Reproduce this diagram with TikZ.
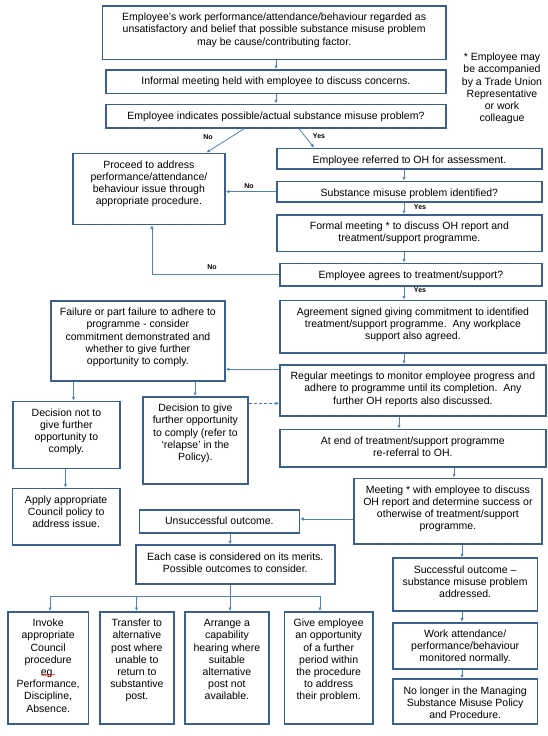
\documentclass[tikz,border=0pt]{standalone}
\usepackage{fontspec}
\setmainfont{Liberation Sans}
\usetikzlibrary{arrows.meta,decorations.pathmorphing}
\definecolor{boxc}{HTML}{3A5F91}
\definecolor{arrc}{HTML}{4F81BD}
\tikzset{
  box/.style={draw=boxc, line width=1.8pt, rectangle, inner sep=0pt, fill=white},
  txt/.style={align=center, inner sep=0pt, font=\fontsize{10.5}{12.2}\selectfont},
  arr/.style={draw=arrc, line width=0.8pt, -{Latex[length=3.5pt,width=3.5pt]}},
  conn/.style={draw=arrc, line width=0.8pt},
  lbl/.style={inner sep=0pt, font=\fontsize{7}{8}\selectfont\bfseries},
}
\newcommand\bx[6]{%
  \node[box, anchor=north west, minimum width={#4pt-#2pt}, minimum height={#5pt-#3pt}] (#1) at (#2,#3) {};
  \node[txt, anchor=north, yshift=-7.5pt] (#1t) at (#1.north) {\rule{0pt}{8pt}#6};
}
\begin{document}
\begin{tikzpicture}[x=1pt,y=-1pt]
\useasboundingbox (0,0) rectangle (547,736);
% boxes
\bx{b1}{101.5}{5}{445}{58.5}{Employee’s work performance/attendance/behaviour regarded as\\unsatisfactory and belief that possible substance misuse problem\\may be cause/contributing factor.}
\bx{b2}{105}{69}{445}{92.5}{Informal meeting held with employee to discuss concerns.}
\bx{b3}{105}{103.5}{445}{127}{Employee indicates possible/actual substance misuse problem?}
\bx{pr}{72}{152.5}{224}{223.5}{Proceed to address\\performance/attendance/\\behaviour issue through\\appropriate procedure.}
\bx{oh}{276}{147.5}{541}{168}{Employee referred to OH for assessment.}
\bx{sid}{276}{180.5}{541}{201}{Substance misuse problem identified?}
\bx{fm}{276}{214}{541}{250.5}{Formal meeting * to discuss OH report and\\treatment/support programme.}
\bx{ag}{279}{262.5}{541}{285}{Employee agrees to treatment/support?}
\bx{fail}{50}{300}{224}{380}{Failure or part failure to adhere to\\programme - consider\\commitment demonstrated and\\whether to give further\\opportunity to comply.}
\bx{agr}{279}{299.5}{545}{352}{Agreement signed giving commitment to identified\\treatment/support programme.\ \ Any workplace\\support also agreed.}
\bx{reg}{279}{364}{545}{415}{Regular meetings to monitor employee progress and\\adhere to programme until its completion.\ \ Any\\further OH reports also discussed.}
\bx{dn}{12}{400.5}{119}{467.5}{Decision not to\\give further\\opportunity to\\comply.}
\bx{dg}{142}{396}{247}{483}{Decision to give\\further opportunity\\to comply (refer to\\‘relapse’ in the\\Policy).}
\bx{ae}{279}{428.5}{545}{466}{At end of treatment/support programme\\re-referral to OH.}
\bx{apply}{11.5}{487.5}{119}{544}{Apply appropriate\\Council policy to\\address issue.}
\bx{mt}{353}{477.5}{541}{543}{Meeting * with employee to discuss\\OH report and determine success or\\otherwise of treatment/support\\programme.}
\bx{uns}{138.5}{509}{298.5}{531.7}{Unsuccessful outcome.}
\bx{each}{134.8}{544.3}{334}{583.3}{Each case is considered on its merits.\\Possible outcomes to consider.}
\bx{suc}{392}{557.3}{536.5}{610}{Successful outcome –\\substance misuse problem\\addressed.}
\bx{inv}{7}{611}{87.5}{723.3}{Invoke\\appropriate\\Council\\procedure\\eg.\\Performance,\\Discipline,\\Absence.}
\bx{tr}{99}{611}{173}{723.3}{Transfer to\\alternative\\post where\\unable to\\return to\\substantive\\post.}
\bx{arr}{184}{611}{268}{723.3}{Arrange a\\capability\\hearing where\\suitable\\alternative\\post not\\available.}
\bx{give}{283.5}{611}{372}{723.3}{Give employee\\an opportunity\\of a further\\period within\\the procedure\\to address\\their problem.}
\bx{work}{392}{621.7}{536.5}{668.3}{Work attendance/\\performance/behaviour\\monitored normally.}
\bx{nol}{392}{678.3}{536.5}{723.3}{No longer in the Managing\\Substance Misuse Policy\\and Procedure.}
% note
\node[txt] (note) at (502,88.5) {* Employee may\\be accompanied\\by a Trade Union\\Representative\\or work\\colleague};
% connectors
\draw[arr] (b1.south -| 276,0) -- (b2.north -| 276,0);
\draw[arr] (b2.south -| 276,0) -- (b3.north -| 276,0);
\draw[arr] (b3.south -| 244,0) -- (pr.north -| 206.5,0);
\draw[arr] (b3.south -| 299,0) -- (oh.north -| 314,0);
\draw[arr] (oh.south -| 404,0) -- (sid.north -| 404,0);
\draw[arr] (sid.west) -- (sid.west -| pr.east);
\draw[arr] (sid.south -| 404,0) -- (fm.north -| 404,0);
\draw[arr] (fm.south -| 404,0) -- (ag.north -| 404,0);
\draw[arr] (ag.west) -| (pr.south -| 152,0);
\draw[arr] (ag.south -| 404,0) -- (agr.north -| 404,0);
\draw[arr] (agr.south -| 404,0) -- (reg.north -| 404,0);
\draw[arr] (reg.west |- 0,369.3) -- (fail.east |- 0,369.3);
\draw[arr] (fail.south -| 73.5,0) -- (dn.north -| 73.5,0);
\draw[arr] (fail.south -| 195,0) -- (dg.north -| 195,0);
\draw[arr, dashed, dash pattern=on 3pt off 2pt] (dg.east |- 0,403.3) -- (reg.west |- 0,403.3);
\draw[arr] (reg.south -| 399,0) -- (ae.north -| 399,0);
\draw[arr] (dn.south -| 65.5,0) -- (apply.north -| 65.5,0);
\draw[arr] (ae.south -| 454,0) -- (mt.north -| 454,0);
\draw[arr] (mt.west |- 0,519) -- (uns.east |- 0,519);
\draw[arr] (mt.south -| 462,0) -- (suc.north -| 462,0);
\draw[arr] (uns.south -| 230,0) -- (each.north -| 230,0);
\coordinate (split) at (230,596);
\draw[conn] (each.south -| 230,0) -- (split);
\draw[arr] (split) -| (inv.north -| 50,0);
\draw[arr] (split) -| (tr.north -| 136.5,0);
\draw[arr] (split) -- (arr.north -| 230,0);
\draw[arr] (split) -| (give.north -| 320,0);
\draw[arr] (suc.south -| 462,0) -- (work.north -| 462,0);
\draw[arr] (work.south -| 462,0) -- (nol.north -| 462,0);
% labels
\node[lbl] (l1) at (208,137) {No};
\node[lbl] (l2) at (319,136) {Yes};
\node[lbl] (l3) at (249,186) {No};
\node[lbl] (l4) at (420,207) {Yes};
\node[lbl] (l5) at (212,267) {No};
\node[lbl] (l6) at (420,290) {Yes};
% spell-check squiggle
\draw[red, line width=0.5pt, decorate, decoration={snake, amplitude=0.6pt, segment length=2.5pt}] (41,675) -- (53,675);
\end{tikzpicture}
\end{document}
